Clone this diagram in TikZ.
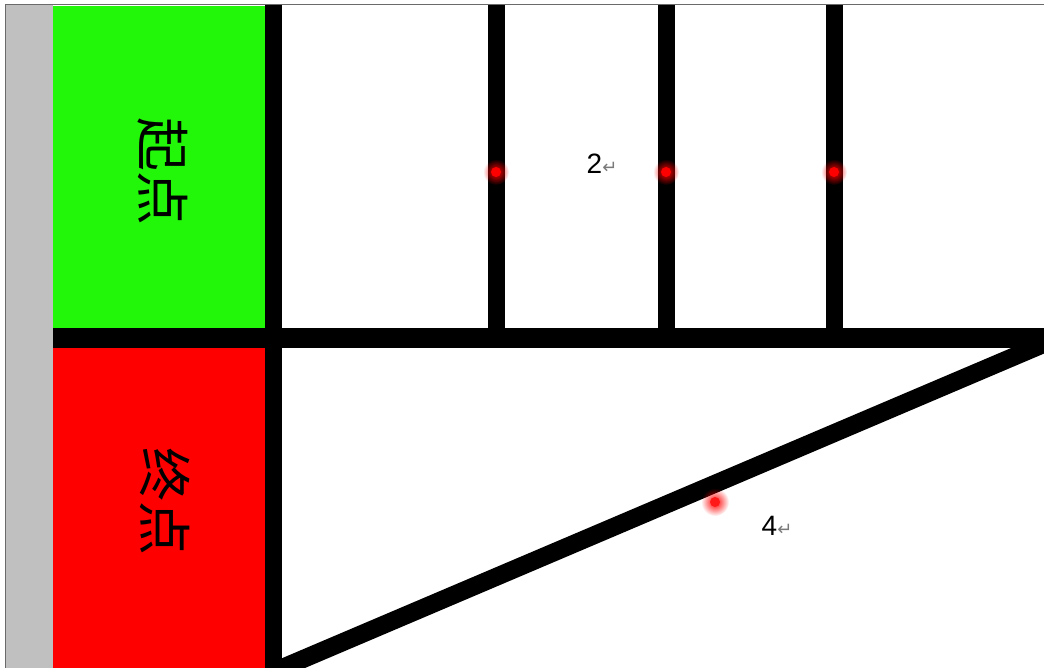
\documentclass[tikz,border=0pt]{standalone}
\usepackage{fontspec}
\setmainfont{Liberation Sans}
\newfontfamily\cjkfont{Noto Sans CJK SC}
\newfontfamily\symfont{DejaVu Sans}
\usetikzlibrary{fadings}
\definecolor{startgreen}{HTML}{22F70A}
\definecolor{endred}{HTML}{FF0000}
\definecolor{wallgray}{HTML}{C0C0C0}
\definecolor{edgegray}{HTML}{6A6A6A}
\definecolor{markgray}{HTML}{7A7A7A}
\tikzfading[name=glow, inner color=transparent!0, outer color=transparent!100]

\begin{document}
\begin{tikzpicture}[x=1pt,y=-1pt,
    wall/.style={line width=17pt},
    glowdot/.style={fill=red, path fading=glow},
    roomname/.style={font=\cjkfont\fontsize{54}{54}\selectfont, rotate=-90, inner sep=0pt},
    roomnum/.style={font=\fontsize{28}{28}\selectfont, inner sep=0pt}]
      \useasboundingbox (0,0) rectangle (1044,668);
      \fill[white] (0,0) rectangle (1044,668);
      \fill[wallgray] (5,5) rectangle (53,668);
      \draw[edgegray,line width=1pt] (5,668) -- (5,5) -- (1044,5);
      \fill[startgreen] (53,6) rectangle (265,328);
      \fill[endred] (53,348) rectangle (265,668);
      \draw[wall] (273,5) -- (273,668);
      \draw[line width=20pt] (53,338) -- (1044,338);
      \foreach \x in {496,666,834} {
        \draw[wall] (\x,5) -- (\x,338);
        \fill[glowdot] (\x,172) circle (13pt);
        \fill[red] (\x,172) circle (5pt);
      }
      \begin{scope}
        \clip (282,348) rectangle (1044,668);
        \draw[line width=18pt] (282,668) -- (1060,337);
      \end{scope}
      \fill[glowdot] (715,502) circle (14pt);
      \fill[red!90!white] (715,502) circle (5pt);
      \node[roomname] (startname) at (163,172) {起点};
      \node[roomname] (endname) at (165,501) {终点};
      \node[roomnum] (roomtwo) at (602,164) {2{\color{markgray}\symfont\fontsize{18}{18}\selectfont ↵}};
      \node[roomnum] (roomfour) at (777,526) {4{\color{markgray}\symfont\fontsize{18}{18}\selectfont ↵}};
    \end{tikzpicture}
\end{document}
